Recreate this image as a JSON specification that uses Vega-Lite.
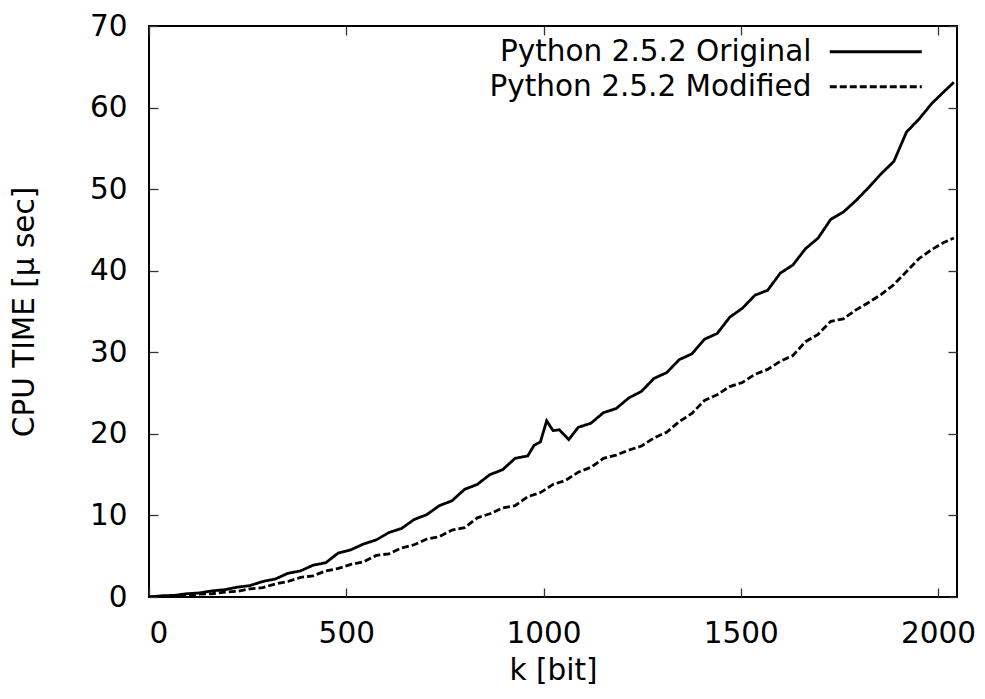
{
  "$schema": "https://vega.github.io/schema/vega-lite/v6.json",
  "autosize": "none",
  "padding": {"left": 149, "top": 26, "right": 28, "bottom": 102},
  "width": 808,
  "height": 571,
  "background": "white",
  "config": {
    "view": {"stroke": "black", "strokeWidth": 2},
    "font": "DejaVu Sans",
    "axis": {
      "grid": false,
      "domain": false,
      "tickColor": "#333",
      "tickWidth": 1.3,
      "tickSize": 9,
      "labelFont": "DejaVu Sans",
      "labelFontSize": 29.5,
      "labelColor": "black",
      "titleFont": "DejaVu Sans",
      "titleFontSize": 29.5,
      "titleFontWeight": "normal",
      "titleColor": "black",
      "labelPadding": 22
    }
  },
  "datasets": {
    "orig": [
      {"k":0,"t":0},{"k":32,"t":0.15},{"k":64,"t":0.2},{"k":96,"t":0.4},{"k":128,"t":0.5},{"k":160,"t":0.75},{"k":192,"t":0.9},{"k":224,"t":1.2},{"k":256,"t":1.4},{"k":288,"t":1.9},{"k":320,"t":2.2},{"k":352,"t":2.9},{"k":384,"t":3.2},{"k":416,"t":3.9},{"k":448,"t":4.2},{"k":480,"t":5.4},{"k":512,"t":5.8},{"k":544,"t":6.5},{"k":576,"t":7.0},{"k":608,"t":7.9},{"k":640,"t":8.4},{"k":672,"t":9.5},{"k":704,"t":10.1},{"k":736,"t":11.2},{"k":768,"t":11.8},{"k":800,"t":13.2},{"k":832,"t":13.8},{"k":864,"t":15.0},{"k":896,"t":15.6},{"k":928,"t":17.0},{"k":960,"t":17.3},{"k":976,"t":18.6},{"k":992,"t":19.0},{"k":1008,"t":21.6},{"k":1024,"t":20.4},{"k":1040,"t":20.5},{"k":1064,"t":19.3},{"k":1088,"t":20.8},{"k":1120,"t":21.3},{"k":1152,"t":22.6},{"k":1184,"t":23.1},{"k":1216,"t":24.4},{"k":1248,"t":25.2},{"k":1280,"t":26.8},{"k":1312,"t":27.5},{"k":1344,"t":29.1},{"k":1376,"t":29.8},{"k":1408,"t":31.6},{"k":1440,"t":32.3},{"k":1472,"t":34.3},{"k":1504,"t":35.4},{"k":1536,"t":37.0},{"k":1568,"t":37.6},{"k":1600,"t":39.7},{"k":1632,"t":40.7},{"k":1664,"t":42.7},{"k":1696,"t":44.0},{"k":1728,"t":46.3},{"k":1760,"t":47.2},{"k":1792,"t":48.6},{"k":1824,"t":50.2},{"k":1856,"t":51.9},{"k":1888,"t":53.4},{"k":1920,"t":57.0},{"k":1952,"t":58.6},{"k":1984,"t":60.5},{"k":2016,"t":62.0},{"k":2040,"t":63.1}
    ],
    "mod": [
      {"k":0,"t":0},{"k":32,"t":0.05},{"k":64,"t":0.15},{"k":96,"t":0.2},{"k":128,"t":0.35},{"k":160,"t":0.4},{"k":192,"t":0.6},{"k":224,"t":0.7},{"k":256,"t":1.0},{"k":288,"t":1.15},{"k":320,"t":1.6},{"k":352,"t":1.9},{"k":384,"t":2.4},{"k":416,"t":2.6},{"k":448,"t":3.2},{"k":480,"t":3.5},{"k":512,"t":4.0},{"k":544,"t":4.3},{"k":576,"t":5.1},{"k":608,"t":5.3},{"k":640,"t":6.0},{"k":672,"t":6.4},{"k":704,"t":7.1},{"k":736,"t":7.4},{"k":768,"t":8.2},{"k":800,"t":8.5},{"k":832,"t":9.7},{"k":864,"t":10.2},{"k":896,"t":10.9},{"k":928,"t":11.2},{"k":960,"t":12.3},{"k":992,"t":12.8},{"k":1024,"t":13.8},{"k":1056,"t":14.3},{"k":1088,"t":15.3},{"k":1120,"t":15.9},{"k":1152,"t":17.0},{"k":1184,"t":17.4},{"k":1216,"t":18.0},{"k":1248,"t":18.5},{"k":1280,"t":19.5},{"k":1312,"t":20.2},{"k":1344,"t":21.5},{"k":1376,"t":22.5},{"k":1408,"t":24.1},{"k":1440,"t":24.8},{"k":1472,"t":25.8},{"k":1504,"t":26.3},{"k":1536,"t":27.3},{"k":1568,"t":27.9},{"k":1600,"t":28.9},{"k":1632,"t":29.6},{"k":1664,"t":31.3},{"k":1696,"t":32.2},{"k":1728,"t":33.8},{"k":1760,"t":34.1},{"k":1792,"t":35.2},{"k":1824,"t":36.1},{"k":1856,"t":37.1},{"k":1888,"t":38.3},{"k":1920,"t":39.9},{"k":1952,"t":41.5},{"k":1984,"t":42.6},{"k":2016,"t":43.5},{"k":2040,"t":44.0}
    ]
  },
  "resolve": {"axis": {"x": "independent", "y": "independent"}},
  "layer": [
    {
      "data": {"name": "orig"},
      "mark": {"type": "line", "color": "black", "strokeWidth": 2.8, "clip": true},
      "encoding": {
        "x": {"field": "k", "type": "quantitative",
              "scale": {"domain": [0, 2048], "nice": false, "zero": false},
              "axis": {"orient": "bottom", "values": [0, 500, 1000, 1500, 2000], "format": "d", "ticks": false, "title": "k [bit]", "titlePadding": 9}},
        "y": {"field": "t", "type": "quantitative",
              "scale": {"domain": [0, 70], "nice": false},
              "axis": {"orient": "left", "values": [0, 10, 20, 30, 40, 50, 60, 70], "format": "d", "ticks": false, "title": "CPU TIME [μ sec]", "titlePadding": 50}},
        "strokeDash": {"datum": "Python 2.5.2 Original", "type": "nominal",
              "scale": {"domain": ["Python 2.5.2 Original", "Python 2.5.2 Modified"], "range": [[1, 0], [7, 3]]},
              "legend": {
                "title": null,
                "orient": "none",
                "legendX": 712,
                "legendY": 11,
                "padding": 0,
                "symbolType": "M-4.6,0H4.6",
                "symbolSize": 400,
                "symbolStrokeWidth": 3,
                "symbolStrokeColor": "black",
                "symbolFillColor": "transparent",
                "labelAlign": "right",
                "labelOffset": -79,
                "labelFont": "DejaVu Sans",
                "labelFontSize": 29.5,
                "labelColor": "black",
                "labelLimit": 500,
                "rowPadding": 4
              }}
      }
    },
    {
      "data": {"name": "mod"},
      "mark": {"type": "line", "color": "black", "strokeWidth": 2.8, "clip": true},
      "encoding": {
        "x": {"field": "k", "type": "quantitative",
              "axis": {"orient": "top", "offset": -9, "values": [0, 500, 1000, 1500, 2000], "labels": false, "title": null}},
        "y": {"field": "t", "type": "quantitative",
              "axis": {"orient": "right", "offset": -9, "values": [0, 10, 20, 30, 40, 50, 60, 70], "labels": false, "title": null}},
        "strokeDash": {"datum": "Python 2.5.2 Modified", "type": "nominal"}
      }
    },
    {
      "data": {"name": "orig"},
      "mark": {"type": "line", "color": "black", "opacity": 0, "clip": true},
      "encoding": {
        "x": {"field": "k", "type": "quantitative",
              "axis": {"orient": "bottom", "offset": -9, "values": [0, 500, 1000, 1500, 2000], "labels": false, "title": null}},
        "y": {"field": "t", "type": "quantitative",
              "axis": {"orient": "left", "offset": -9, "values": [0, 10, 20, 30, 40, 50, 60, 70], "labels": false, "title": null}}
      }
    }
  ]
}
